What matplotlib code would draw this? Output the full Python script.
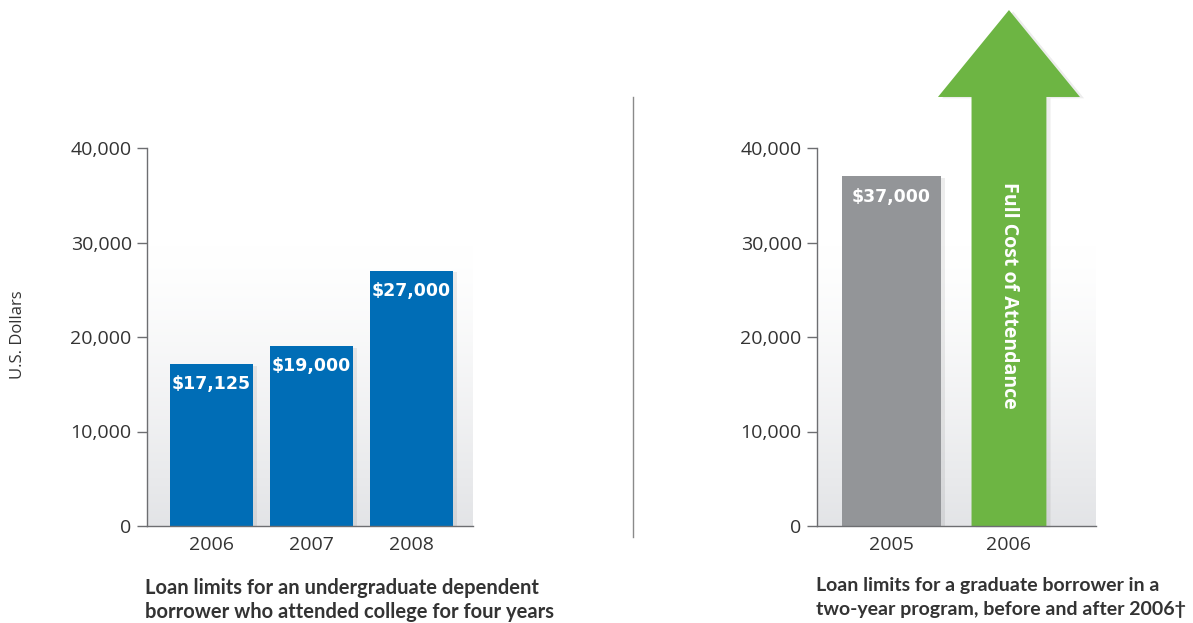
import matplotlib
matplotlib.use("Agg")
import matplotlib.pyplot as plt
import matplotlib.patheffects as pe
from matplotlib.patches import Polygon
from matplotlib.lines import Line2D
import numpy as np

plt.rcParams['font.family'] = ['Open Sans', 'DejaVu Sans']

# Undergraduate dependent borrower, four years
ug_years = ['2006', '2007', '2008']
ug_limits = [17125, 19000, 27000]

# Graduate borrower, two-year program
grad_years = ['2005', '2006']
grad_limit_2005 = 37000
grad_arrow_label = 'Full Cost of Attendance'

y_ticks = [0, 10000, 20000, 30000, 40000]

ug_caption = ['Loan limits for an undergraduate dependent',
              'borrower who attended college for four years']
grad_caption = ['Loan limits for a graduate borrower in a',
                'two-year program, before and after 2006\u2020']

BLUE = '#006db6'
GREY_BAR = '#939598'
GREEN = '#6db543'
TEXT = '#333333'
SPINE = '#6d6e71'
LABEL_FONT = ['DejaVu Sans']

W, H = 1193, 623
fig = plt.figure(figsize=(W / 100, H / 100), dpi=100)


def px_axes(x0, x1, ytop, ybot):
    return fig.add_axes([x0 / W, (H - ybot) / H, (x1 - x0) / W, (ybot - ytop) / H])


def style_axes(ax):
    for s in ['top', 'right']:
        ax.spines[s].set_visible(False)
    for s in ['left', 'bottom']:
        ax.spines[s].set_color(SPINE)
        ax.spines[s].set_linewidth(1.0)
    ax.set_ylim(0, 40000)
    ax.set_yticks(y_ticks)
    ax.set_yticklabels([f'{v:,}' for v in y_ticks])
    ax.tick_params(axis='y', length=7, width=1, color=SPINE, labelsize=14,
                   labelcolor=TEXT, pad=4)
    ax.tick_params(axis='x', length=0, labelsize=14, labelcolor=TEXT, pad=7)
    ax.set_facecolor('none')


def backdrop(ax):
    # soft grey wash rising from the baseline
    x0, x1 = ax.get_xlim()
    g = np.linspace(1, 0, 256)[:, None]
    g = np.clip(g * 1.35 - 0.35, 0, 1) ** 1.3
    rgba = np.ones((256, 2, 4))
    base = np.array([0.89, 0.895, 0.905])
    rgba[..., :3] = 1 - (1 - base) * g[..., None]
    ax.imshow(rgba, extent=[x0, x1, 0, 40000], aspect='auto', zorder=0,
              interpolation='bilinear', origin='lower')
    ax.set_xlim(x0, x1)
    ax.set_ylim(0, 40000)


shadow = [pe.SimplePatchShadow(offset=(3, -1), shadow_rgbFace='#000000', alpha=0.07),
          pe.Normal()]

# ---- left panel ----
axL = px_axes(147, 473, 148, 526)
xL = np.arange(len(ug_years))
axL.set_xlim(-0.645, 2.615)
backdrop(axL)
bars = axL.bar(xL, ug_limits, width=0.83, color=BLUE, zorder=2)
for b in bars:
    b.set_path_effects(shadow)
for xi, v in zip(xL, ug_limits):
    axL.annotate(f'${v:,}', (xi, v), xytext=(0, -20), textcoords='offset pixels',
                 ha='center', va='center', color='white', fontsize=12.5,
                 fontweight='bold', family=LABEL_FONT, zorder=3)
axL.set_xticks(xL)
axL.set_xticklabels(ug_years)
style_axes(axL)

# ---- right panel ----
axR = px_axes(817, 1096, 148, 526)
xR = np.arange(len(grad_years))
axR.set_xlim(-0.637, 1.748)
backdrop(axR)
gb = axR.bar(xR[0], grad_limit_2005, width=0.846, color=GREY_BAR, zorder=2)
gb[0].set_path_effects(shadow)
axR.annotate(f'${grad_limit_2005:,}', (xR[0], grad_limit_2005), xytext=(0, -21),
             textcoords='offset pixels', ha='center', va='center', color='white',
             fontsize=12.5, fontweight='bold', family=LABEL_FONT, zorder=3)

# upward arrow for the uncapped limit
cx = xR[1] + 0.004
shaft, head = 0.32, 0.607
head_base, tip = 45400, 54600
arrow = Polygon([(cx - shaft, 0), (cx + shaft, 0), (cx + shaft, head_base),
                 (cx + head, head_base), (cx, tip), (cx - head, head_base),
                 (cx - shaft, head_base)], closed=True, facecolor=GREEN,
                edgecolor='none', zorder=2, clip_on=False)
arrow.set_path_effects(shadow)
axR.add_patch(arrow)
axR.text(cx, 24400, grad_arrow_label, rotation=-90, ha='center', va='center',
         color='white', fontsize=14, fontweight='bold', zorder=3)
axR.set_xticks(xR)
axR.set_xticklabels(grad_years)
style_axes(axR)

# y-axis title
fig.text(18 / W, (H - 335) / H, 'U.S. Dollars', rotation=90, ha='center',
         va='center', fontsize=12, color=TEXT)

# divider between the panels
fig.add_artist(Line2D([633 / W, 633 / W], [(H - 537) / H, (H - 97) / H],
                      color='#8a8a8a', lw=1.0))

# captions
cap_font = dict(family=['Lato', 'DejaVu Sans'], fontweight='bold',
                color=TEXT, ha='left', va='center')
for i, line in enumerate(ug_caption):
    fig.text(145 / W, (H - (588 + 24 * i)) / H, line, fontsize=14.5, **cap_font)
for i, line in enumerate(grad_caption):
    fig.text(816 / W, (H - (585 + 24 * i)) / H, line, fontsize=14, **cap_font)

fig.savefig('out.png', dpi=100)
